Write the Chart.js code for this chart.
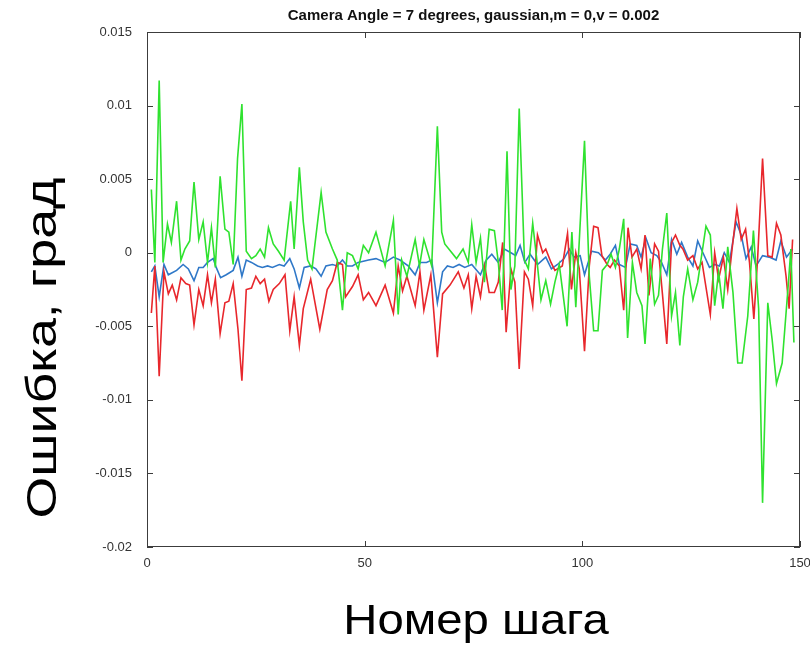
<!DOCTYPE html>
<html>
<head>
<meta charset="utf-8">
<script src="https://cdn.jsdelivr.net/npm/chart.js@4.4.1/dist/chart.umd.min.js"></script>
<style>
  html, body { margin: 0; padding: 0; background: #fff; }
  canvas { display: block; }
</style>
</head>
<body>
<canvas id="errChart" width="810" height="647"></canvas>
<script>
// error curves (step number -> error, degrees)
const greenSteps = [1, 1.8, 2.8, 3.7, 4.7, 5.6, 6.8, 7.8, 8.7, 9.8, 10.8, 11.9, 12.9, 13.9, 14.8, 15.7, 16.8, 17.9, 18.8, 19.8,
  20.8, 21.8, 22.8, 24, 25, 26, 27, 27.9, 29, 30.2, 31.5, 33, 33.8, 35, 35.9, 36.9, 37.9, 40, 41.1, 42.6,
  43.7, 44.9, 46, 47.2, 48.5, 49.7, 50.9, 52.6, 54.7, 56.6, 57.7, 58.5, 59.7, 61.6, 62.6, 63.6, 65.4, 66.7, 67.7, 68.4,
  71.1, 72.6, 73.8, 74.6, 75.6, 76.6, 77.5, 78.6, 79.8, 80.7, 81.6, 82.7, 83.6, 84.5, 85.5, 86.7, 87.6, 88.6, 89.7, 90.5,
  91.6, 92.7, 93.7, 94.7, 96.5, 97.6, 98.5, 100.5, 101.6, 102.6, 103.6, 104.6, 105.7, 106.6, 107.6, 108.5, 109.5, 110.4, 111.5, 112.5,
  113.7, 114.4, 115.6, 116.6, 117.5, 118.4, 119.4, 120.5, 121.4, 122.4, 123.2, 124.2, 125.4, 126.5, 128.4, 129.4, 130.4, 131.3, 132.3, 133.4,
  134.6, 135.7, 136.7, 138, 139.3, 140.5, 141.4, 142.6, 143.6, 144.6, 145.9, 147.4, 147.9, 148.6];
const greenErr = [0.0043, -0.00066, 0.0117, -0.00066, 0.00195, 0.0007, 0.0035, -0.0005, 0.00025, 0.0008, 0.0048, 0.0009, 0.0021, -0.00066, 0.0017, -0.001, 0.0052, 0.0016, 0.0014, -0.0008,
  0.0064, 0.0101, 0.0001, -0.0004, -0.0002, 0.00025, -0.0003, 0.0017, 0.0006, 0.0001, -0.0005, 0.0035, 0.00025, 0.0058, 0.0021, -0.0005, -0.0011, 0.0041, 0.0014, 0.00025,
  -0.0005, -0.0039, 0, -0.0002, -0.0011, 0.0005, 0, 0.0014, -0.0009, 0.0022, -0.0042, -0.0005, -0.0016, 0.0009, -0.0009, 0.0009, -0.0009, 0.0086, 0.0014, 0.0006,
  -0.0004, 0.00025, -0.00066, 0.0019, -0.00066, 0.001, -0.002, 0.0016, 0.0015, -0.00066, -0.0039, 0.0069, -0.0025, -0.0009, 0.0098, -0.0005, -0.0011, 0.002, -0.0009, -0.0032,
  -0.0019, -0.0035, -0.002, -0.0008, -0.005, 0.0014, -0.0037, 0.0076, -0.0016, -0.0053, -0.0053, -0.0012, -0.0008, -0.0001, -0.001, 0.00025, 0.0023, -0.0058, -0.00066, -0.0027,
  -0.0036, -0.0062, -0.0004, -0.0035, -0.0029, 0.00025, 0.0027, -0.0043, -0.0027, -0.0063, -0.003, -0.0011, -0.0032, -0.002, 0.0018, 0.0012, -0.0036, -0.0013, -0.0038, 0.0004,
  -0.0027, -0.0075, -0.0075, -0.0043, 0.0015, -0.0038, -0.017, -0.0034, -0.0059, -0.0089, -0.0075, -0.0018, 0.00025, -0.0061];

const redSteps = [1, 1.8, 2.8, 3.9, 4.9, 5.8, 6.8, 7.8, 8.9, 9.8, 10.8, 11.9, 12.9, 13.9, 14.8, 15.7, 16.8, 17.9, 18.8, 19.8,
  20.9, 21.8, 22.8, 24, 25, 26, 27, 28, 29, 30.4, 31.7, 32.8, 33.8, 35, 35.9, 37.6, 39.7, 41.4, 42.6, 43.7,
  44.9, 45.6, 47.2, 48.5, 49.7, 50.9, 52.6, 54.7, 56.6, 57.7, 58.7, 59.7, 61.6, 62.7, 63.6, 65.2, 66.7, 67.9, 69.6, 71.5,
  72.8, 73.8, 74.6, 75.6, 76.6, 77.6, 78.6, 79.8, 80.7, 81.7, 82.5, 83.6, 84.5, 85.5, 86.7, 87.6, 88.6, 89.7, 90.9, 91.6,
  92.8, 93.7, 95.4, 96.6, 97.5, 98.5, 99.3, 100.5, 101.6, 102.6, 103.6, 104.5, 105.7, 106.4, 107.4, 108.5, 109.5, 110.5, 111.4, 112.5,
  113.5, 114.4, 115.3, 116.6, 117.5, 118.4, 119.4, 120.5, 121.4, 122.4, 123.1, 124.2, 125.4, 126.5, 127.5, 129.4, 130.4, 131.3, 132.4, 133.4,
  134.4, 135.5, 136.5, 137.5, 138.4, 139.4, 140.3, 141.4, 142.6, 143.6, 144.6, 145.6, 146.8, 147.5, 148.3];
const redErr = [-0.0041, -0.0009, -0.0084, -0.0013, -0.0028, -0.0022, -0.0032, -0.0017, -0.0021, -0.0022, -0.0049, -0.0025, -0.0036, -0.0015, -0.0034, -0.0018, -0.0055, -0.0034, -0.0033, -0.0021,
  -0.0052, -0.0087, -0.0025, -0.0024, -0.0016, -0.0021, -0.0018, -0.0033, -0.0025, -0.0021, -0.0015, -0.0053, -0.003, -0.0063, -0.0038, -0.0018, -0.0052, -0.0025, -0.0019, -0.00066,
  -0.0008, -0.003, -0.0023, -0.0015, -0.0032, -0.0027, -0.0036, -0.0022, -0.0041, -0.0009, -0.0026, -0.0016, -0.0036, -0.0013, -0.0039, -0.0015, -0.0071, -0.0028, -0.0022, -0.0013,
  -0.0024, -0.0015, -0.0038, -0.0016, -0.003, -0.0009, -0.0027, -0.0027, -0.002, 0.0007, -0.0054, -0.0011, -0.002, -0.0079, -0.0013, -0.0018, -0.0036, 0.0012, 0, 0.00025,
  -0.00066, -0.0012, -0.0009, 0.0013, -0.0025, 0, -0.0011, -0.0067, -0.0009, 0.0018, 0.0017, -0.0002, -0.0008, -0.001, -0.0005, -0.0009, -0.0039, 0.0017, -0.0003, 0.00025,
  -0.0011, 0.0012, -0.0029, 0.0006, 0.0001, -0.0028, -0.0062, 0.0007, 0.0012, 0.0005, 0.00025, -0.0005, -0.0002, -0.0011, -0.00066, -0.0042, 0, -0.0018, -0.0003, -0.0025,
  0.00025, 0.003, 0.0009, 0.0016, -0.00066, -0.0045, -0.0002, 0.0064, -0.0002, -0.0003, 0.002, 0.0012, -0.0016, -0.0038, 0.0009];

const blueSteps = [1, 1.8, 2.8, 3.9, 4.9, 6.8, 8.3, 9.5, 10.8, 11.9, 12.9, 13.9, 15.2, 15.9, 16.9, 18.2, 19.8, 20.9, 21.8, 22.8,
  24, 25.4, 26.5, 27.7, 28.8, 30.4, 31.5, 32.8, 33.8, 35, 36.1, 37.6, 38.8, 40, 41.1, 42.6, 43.7, 44.9, 46, 47.2,
  48.5, 50.9, 52.6, 54.7, 56.6, 58.1, 60, 61.6, 62.7, 64.2, 65.4, 66.7, 67.9, 69, 70.3, 71.7, 73, 74.6, 76.6, 77.9,
  79.2, 80.7, 82.1, 83.6, 84.7, 85.7, 86.8, 88, 89.7, 91.6, 92.9, 94.3, 95.8, 97, 98.1, 99.5, 100.5, 102.1, 103.7, 105.3,
  106.4, 107.6, 108.5, 109.9, 111, 112.5, 113.5, 114.6, 115.8, 117.1, 118.2, 119.4, 120.5, 121.7, 122.8, 124.2, 125.4, 126.5, 127.7, 129.2,
  130.4, 131.5, 132.6, 133.8, 135.3, 136.5, 137.6, 138.8, 139.9, 141.4, 142.9, 144.5, 145.6, 146.9, 148.3];
const blueErr = [-0.0013, -0.0009, -0.003, -0.0008, -0.0015, -0.0012, -0.0008, -0.0011, -0.0019, -0.001, -0.001, -0.00066, -0.0004, -0.001, -0.0017, -0.0015, -0.0012, -0.0003, -0.0016, -0.0005,
  -0.00066, -0.0009, -0.001, -0.0009, -0.001, -0.0008, -0.0009, -0.0004, -0.0011, -0.0024, -0.001, -0.0009, -0.0011, -0.0016, -0.0009, -0.0008, -0.0009, -0.0005, -0.0009, -0.0009,
  -0.00066, -0.0005, -0.0004, -0.00066, -0.0003, -0.0005, -0.0009, -0.0015, -0.00066, -0.00066, -0.0005, -0.0034, -0.0013, -0.0009, -0.001, -0.0008, -0.001, -0.0008, -0.0015, -0.0005,
  -0.0001, -0.00066, 0.00025, 0, -0.0002, 0.0005, -0.00066, -0.0001, -0.0008, -0.0003, -0.0011, -0.0008, -0.0004, 0.00025, -0.0003, -0.0002, -0.0015, 0.0001, 0, -0.0005,
  -0.0001, 0.0005, -0.0008, -0.001, 0.0006, 0.0005, -0.0003, 0.001, 0, -0.0002, -0.00066, -0.0015, 0.0009, -0.0001, 0.0007, -0.0003, -0.0009, 0.0008, 0, -0.001,
  -0.0008, -0.0009, 0, -0.00066, 0.0021, 0.0012, -0.0004, 0.0004, -0.0009, -0.0002, -0.0003, -0.0005, 0.0008, -0.0003, 0.00025];

const xTickStep = 50;
const yTickStep = 0.005;

const titleText = 'Camera Angle = 7 degrees, gaussian,m = 0,v = 0.002';
const xTitle = 'Номер шага';
const yTitle = 'Ошибка, град';

function toPoints(steps, errs) {
    return steps.map((s, i) => ({ x: s, y: errs[i] }));
}

// MATLAB-like box with ticks pointing inwards
const boxPlugin = {
    id: 'box',
    afterDatasetsDraw(chart) {
        const { ctx, chartArea: a, scales } = chart;
        ctx.save();
        ctx.strokeStyle = '#3c3c3c';
        ctx.lineWidth = 1;
        ctx.strokeRect(Math.round(a.left) + 0.5, Math.round(a.top) + 0.5,
            Math.round(a.right - a.left) - 1, Math.round(a.bottom - a.top) - 1);
        ctx.beginPath();
        scales.x.ticks.forEach(t => {
            const px = Math.round(scales.x.getPixelForValue(t.value)) + 0.5;
            ctx.moveTo(px, a.bottom); ctx.lineTo(px, a.bottom - 6);
            ctx.moveTo(px, a.top); ctx.lineTo(px, a.top + 6);
        });
        scales.y.ticks.forEach(t => {
            const py = Math.round(scales.y.getPixelForValue(t.value)) + 0.5;
            ctx.moveTo(a.left, py); ctx.lineTo(a.left + 6, py);
            ctx.moveTo(a.right, py); ctx.lineTo(a.right - 6, py);
        });
        ctx.stroke();
        ctx.restore();
    }
};

// big axis captions (slightly stretched along the text, as in the picture)
const captionPlugin = {
    id: 'captions',
    afterDraw(chart) {
        const { ctx } = chart;
        ctx.save();
        ctx.fillStyle = '#000';
        ctx.font = '43px "Liberation Sans", Arial, sans-serif';
        ctx.textAlign = 'center';
        ctx.textBaseline = 'middle';
        ctx.save();
        ctx.translate(476, 622);
        ctx.scale(1.1, 1);
        ctx.fillText(xTitle, 0, 0);
        ctx.restore();
        ctx.translate(44, 348);
        ctx.rotate(-Math.PI / 2);
        ctx.scale(1.25, 1);
        ctx.fillText(yTitle, 0, 0);
        ctx.restore();
    }
};

const tickFont = { family: '"Liberation Sans", Arial, sans-serif', size: 13 };

new Chart(document.getElementById('errChart'), {
    type: 'line',
    data: {
        datasets: [
            {
                label: 'green',
                data: toPoints(greenSteps, greenErr),
                borderColor: '#2fe22f',
                borderWidth: 1.6,
                pointRadius: 0,
                tension: 0,
                fill: false
            },
            {
                label: 'red',
                data: toPoints(redSteps, redErr),
                borderColor: '#e8272c',
                borderWidth: 1.6,
                pointRadius: 0,
                tension: 0,
                fill: false
            },
            {
                label: 'blue',
                data: toPoints(blueSteps, blueErr),
                borderColor: '#2f78c8',
                borderWidth: 1.6,
                pointRadius: 0,
                tension: 0,
                fill: false
            }
        ]
    },
    options: {
        responsive: false,
        animation: false,
        devicePixelRatio: 1,
        layout: { padding: { left: 0, right: 10, top: 0, bottom: 0 } },
        plugins: {
            legend: { display: false },
            tooltip: { enabled: false },
            title: {
                display: true,
                text: titleText,
                fullSize: false,
                color: '#111',
                font: { family: '"Liberation Sans", Arial, sans-serif', size: 15, weight: 'bold' },
                padding: { top: 7, bottom: 7 }
            }
        },
        scales: {
            x: {
                type: 'linear',
                min: 0,
                max: 150,
                grid: { display: false },
                border: { display: false },
                ticks: { stepSize: xTickStep, color: '#333', font: tickFont, padding: 1, maxRotation: 0 },
                afterFit(scale) {
                    scale.height = 100;
                    // let the "150" label run off the edge like in the picture
                    scale.paddingRight = 0;
                    scale.paddingLeft = 0;
                }
            },
            y: {
                min: -0.02,
                max: 0.015,
                grid: { display: false },
                border: { display: false },
                ticks: {
                    stepSize: yTickStep,
                    color: '#333',
                    font: tickFont,
                    padding: 7,
                    callback: v => String(parseFloat(v.toFixed(3)))
                },
                afterFit(scale) { scale.width = 147; }
            }
        }
    },
    plugins: [boxPlugin, captionPlugin]
});
</script>
</body>
</html>
